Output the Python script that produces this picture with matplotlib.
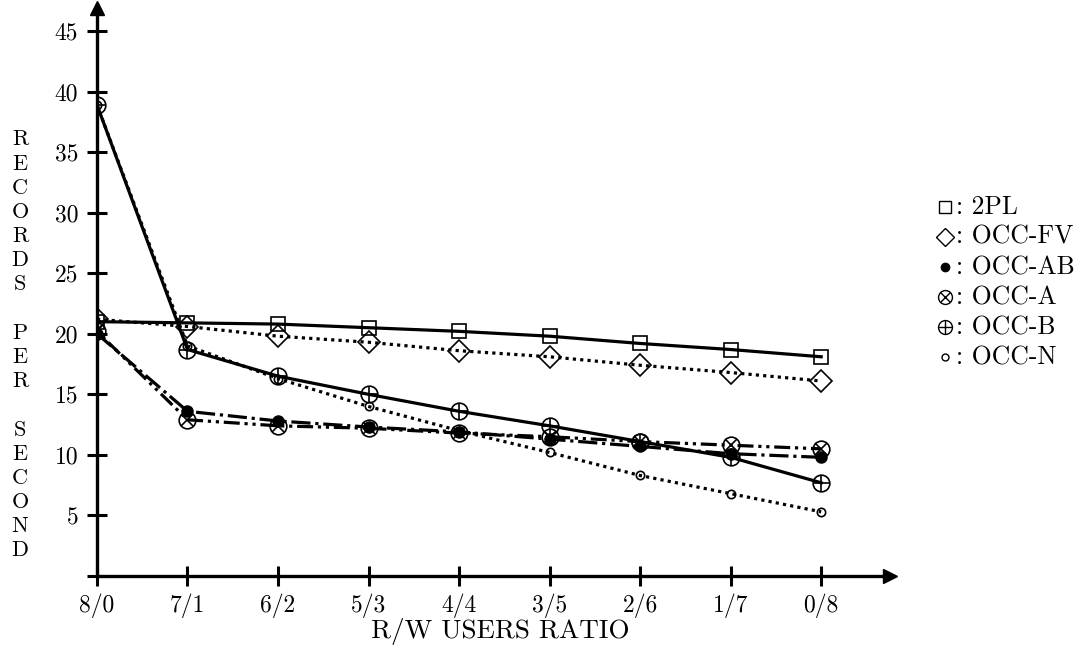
import matplotlib
matplotlib.use("Agg")
import matplotlib.pyplot as plt

plt.rcParams["font.family"] = ["cmr10", "DejaVu Serif"]
plt.rcParams["axes.formatter.use_mathtext"] = True

ratios = ["8/0", "7/1", "6/2", "5/3", "4/4", "3/5", "2/6", "1/7", "0/8"]
yticks = [0, 5, 10, 15, 20, 25, 30, 35, 40, 45]
ytick_labels = ["", "5", "10", "15", "20", "25", "30", "35", "40", "45"]

rec_2pl = [21.0, 20.9, 20.8, 20.5, 20.2, 19.8, 19.2, 18.7, 18.1]
rec_fv = [21.2, 20.6, 19.8, 19.3, 18.6, 18.1, 17.4, 16.8, 16.1]
rec_ab = [20.0, 13.6, 12.8, 12.3, 11.9, 11.3, 10.7, 10.1, 9.8]
rec_a = [20.2, 12.9, 12.4, 12.2, 11.8, 11.5, 11.1, 10.8, 10.5]
rec_b = [38.9, 18.7, 16.5, 15.0, 13.6, 12.4, 11.1, 9.8, 7.7]
rec_n = [38.9, 19.0, 16.3, 14.0, 12.0, 10.2, 8.3, 6.8, 5.3]

series_names = ["2PL", "OCC-FV", "OCC-AB", "OCC-A", "OCC-B", "OCC-N"]

x = list(range(len(ratios)))
LW = 2.3

fig = plt.figure(figsize=(10.81, 6.5), dpi=100)
ax = fig.add_axes([0.0897, 0.1138, 0.7336, 0.874])

ax.plot(x, rec_2pl, "-", color="black", lw=LW, marker="s", ms=9.5,
        mfc="none", mec="black", mew=1.2)
ax.plot(x, rec_fv, color="black", lw=LW, ls=(0, (1, 1.3)), marker="D", ms=11,
        mfc="none", mec="black", mew=1.2)
ax.plot(x, rec_ab, color="black", lw=LW, ls=(0, (6, 1.5, 1, 1.5)), marker="o",
        ms=8, mfc="black", mec="black")
ax.plot(x, rec_a, color="black", lw=LW, ls=(0, (1, 1.5, 1, 1.5, 5, 1.5)),
        marker="o", ms=12, mfc="none", mec="black", mew=1.2)
ax.plot(x, rec_a, ls="none", marker="x", ms=8.5, mec="black", mew=1.2)
ax.plot(x, rec_b, "-", color="black", lw=LW, marker="o", ms=12,
        mfc="none", mec="black", mew=1.2)
ax.plot(x, rec_b, ls="none", marker="+", ms=12, mec="black", mew=1.2)
ax.plot(x, rec_n, color="black", lw=LW, ls=(0, (1, 1.3)), marker="o", ms=6,
        mfc="none", mec="black", mew=1.2)

ax.set_xlim(0, 8.76)
ax.set_ylim(0, 46.9)
ax.set_xticks(x)
ax.set_xticklabels(ratios)
ax.set_yticks(yticks)
ax.set_yticklabels(ytick_labels)
ax.tick_params(direction="inout", length=15, width=2.2, labelsize=17)
ax.tick_params(axis="x", pad=5)
ax.tick_params(axis="y", pad=6)
for s in ["top", "right"]:
    ax.spines[s].set_visible(False)
for s in ["left", "bottom"]:
    ax.spines[s].set_linewidth(2.4)
ax.plot(1, 0, ">", color="black", ms=10, transform=ax.transAxes, clip_on=False)
ax.plot(0, 1, "^", color="black", ms=10, transform=ax.transAxes, clip_on=False)

fig.text(0.463, 0.028, "R/W USERS RATIO", fontsize=19.5, ha="center", va="center")
fig.text(0.0185, 0.469, "\n".join("RECORDS PER SECOND"), fontsize=16,
         ha="center", va="center", linespacing=1.3)

# legend drawn by hand: marker, then ": name"
leg_y = [206.7, 236.7, 267.3, 297.3, 327.3, 357.3]
leg_x = 945 / 1081
tf = fig.transFigure
for i, name in enumerate(series_names):
    yy = 1 - leg_y[i] / 650
    if i == 0:
        ax.plot(leg_x, yy, "s", ms=8, mfc="none", mec="black", mew=1, transform=tf, clip_on=False)
    elif i == 1:
        ax.plot(leg_x, yy, "D", ms=9, mfc="none", mec="black", mew=1, transform=tf, clip_on=False)
    elif i == 2:
        ax.plot(leg_x, yy, "o", ms=6, mfc="black", mec="black", transform=tf, clip_on=False)
    elif i == 3:
        ax.plot(leg_x, yy, "o", ms=10, mfc="none", mec="black", mew=1, transform=tf, clip_on=False)
        ax.plot(leg_x, yy, "x", ms=7, mec="black", mew=1, transform=tf, clip_on=False)
    elif i == 4:
        ax.plot(leg_x, yy, "o", ms=10, mfc="none", mec="black", mew=1, transform=tf, clip_on=False)
        ax.plot(leg_x, yy, "+", ms=10, mec="black", mew=1, transform=tf, clip_on=False)
    else:
        ax.plot(leg_x, yy, "o", ms=5, mfc="none", mec="black", mew=1, transform=tf, clip_on=False)
    fig.text(956 / 1081, yy, ": " + name, fontsize=18.5, ha="left", va="center")

fig.savefig("out.png", dpi=100)
